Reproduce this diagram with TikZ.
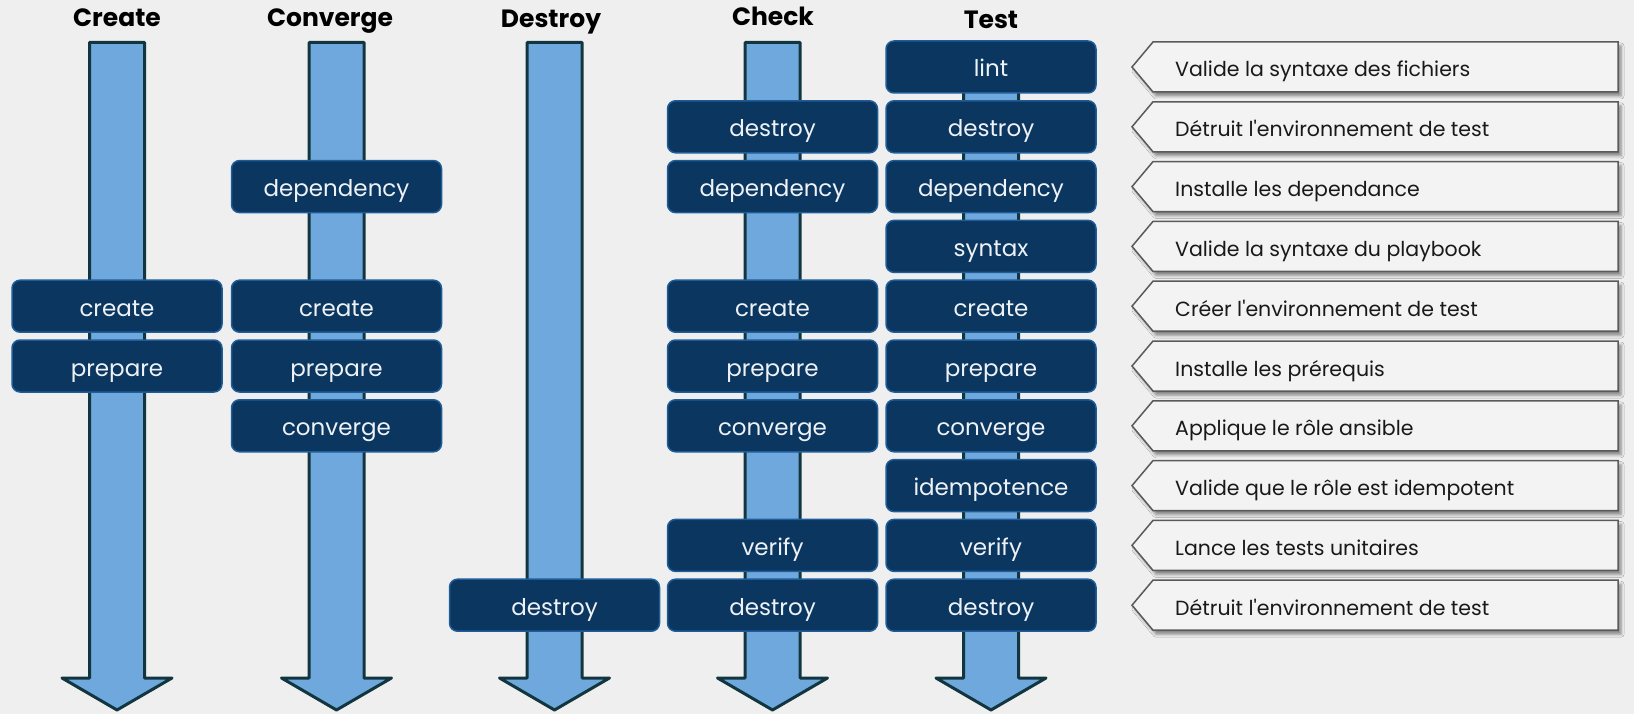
\documentclass[tikz,border=0pt]{standalone}
\usepackage{fontspec}
\setmainfont{Poppins}
\usetikzlibrary{shadows.blur}

\definecolor{bgcol}{HTML}{EFEFEF}
\definecolor{pipefill}{HTML}{6FA8DC}
\definecolor{pipeline}{HTML}{12363F}
\definecolor{boxfill}{HTML}{0A365F}
\definecolor{boxline}{HTML}{1E5D99}
\definecolor{boxtext}{HTML}{EEF2F6}
\definecolor{notefill}{HTML}{F3F3F3}
\definecolor{noteline}{HTML}{5A5A5A}

\begin{document}
\begin{tikzpicture}[x=1pt,y=-1pt,
  stagebox/.style={draw=boxline, fill=boxfill, line width=1.5pt, rounded corners=8pt,
    minimum width=210pt, minimum height=52pt, inner sep=0pt, text=boxtext,
    font=\fontsize{23}{23}\selectfont, text height=20pt, text depth=0pt},
  pipe/.style={draw=pipeline, fill=pipefill, line width=3pt, line join=round},
  header/.style={font=\fontsize{25}{25}\selectfont\bfseries, anchor=base, inner sep=0pt, text=black},
  notebox/.style={draw=noteline, fill=notefill, line width=1.5pt,
    blur shadow={shadow xshift=3pt, shadow yshift=-4pt, shadow blur radius=3pt, shadow opacity=45}},
  notetext/.style={anchor=base west, inner sep=0pt, font=\fontsize{20.5}{20.5}\selectfont, text=black!90}]

% page
\fill[bgcol] (0,0) rectangle (1634,714);
\useasboundingbox (0,0) rectangle (1634,714);

% column headers
\node[header] (h-create)   at (117,27)   {Create};
\node[header] (h-converge) at (330,27)   {Converge};
\node[header] (h-destroy)  at (551,28)   {Destroy};
\node[header] (h-check)    at (773,26)   {Check};
\node[header] (h-test)     at (991,29)   {Test};

% downward pipeline arrows
\foreach \x in {117,336.5,554.5,772.5,991} {
  \path[pipe] ({\x-27.5},42.5) -- ({\x+27.5},42.5) -- ({\x+27.5},678) -- ({\x+55},678)
    -- (\x,710) -- ({\x-55},678) -- ({\x-27.5},678) -- cycle;
}

% steps of each sequence
\foreach \col/\x/\r/\t in {
  create/117/5/create, create/117/6/prepare,
  converge/336.5/3/dependency, converge/336.5/5/create, converge/336.5/6/prepare, converge/336.5/7/converge,
  destroy/554.5/10/destroy,
  check/772.5/2/destroy, check/772.5/3/dependency, check/772.5/5/create, check/772.5/6/prepare,
  check/772.5/7/converge, check/772.5/9/verify, check/772.5/10/destroy,
  test/991/1/lint, test/991/2/destroy, test/991/3/dependency, test/991/4/syntax, test/991/5/create,
  test/991/6/prepare, test/991/7/converge, test/991/8/idempotence, test/991/9/verify, test/991/10/destroy} {
  \node[stagebox] (\col-\r) at (\x,{67+59.8*(\r-1)}) {\t};
}

% descriptions of the steps
\foreach \r/\t in {
  1/{Valide la syntaxe des fichiers},
  2/{Détruit l\textquotesingle environnement de test},
  3/{Installe les dependance},
  4/{Valide la syntaxe du playbook},
  5/{Créer l\textquotesingle environnement de test},
  6/{Installe les prérequis},
  7/{Applique le rôle ansible},
  8/{Valide que le rôle est idempotent},
  9/{Lance les tests unitaires},
  10/{Détruit l\textquotesingle environnement de test}} {
  \pgfmathsetmacro\yc{67+59.8*(\r-1)}
  \path[notebox] (1132,\yc) -- (1153,{\yc-25}) -- (1618,{\yc-25}) -- (1618,{\yc+25}) -- (1153,{\yc+25}) -- cycle;
  \node[notetext] (note-\r) at (1175,{\yc+10}) {\t};
}
\end{tikzpicture}
\end{document}
